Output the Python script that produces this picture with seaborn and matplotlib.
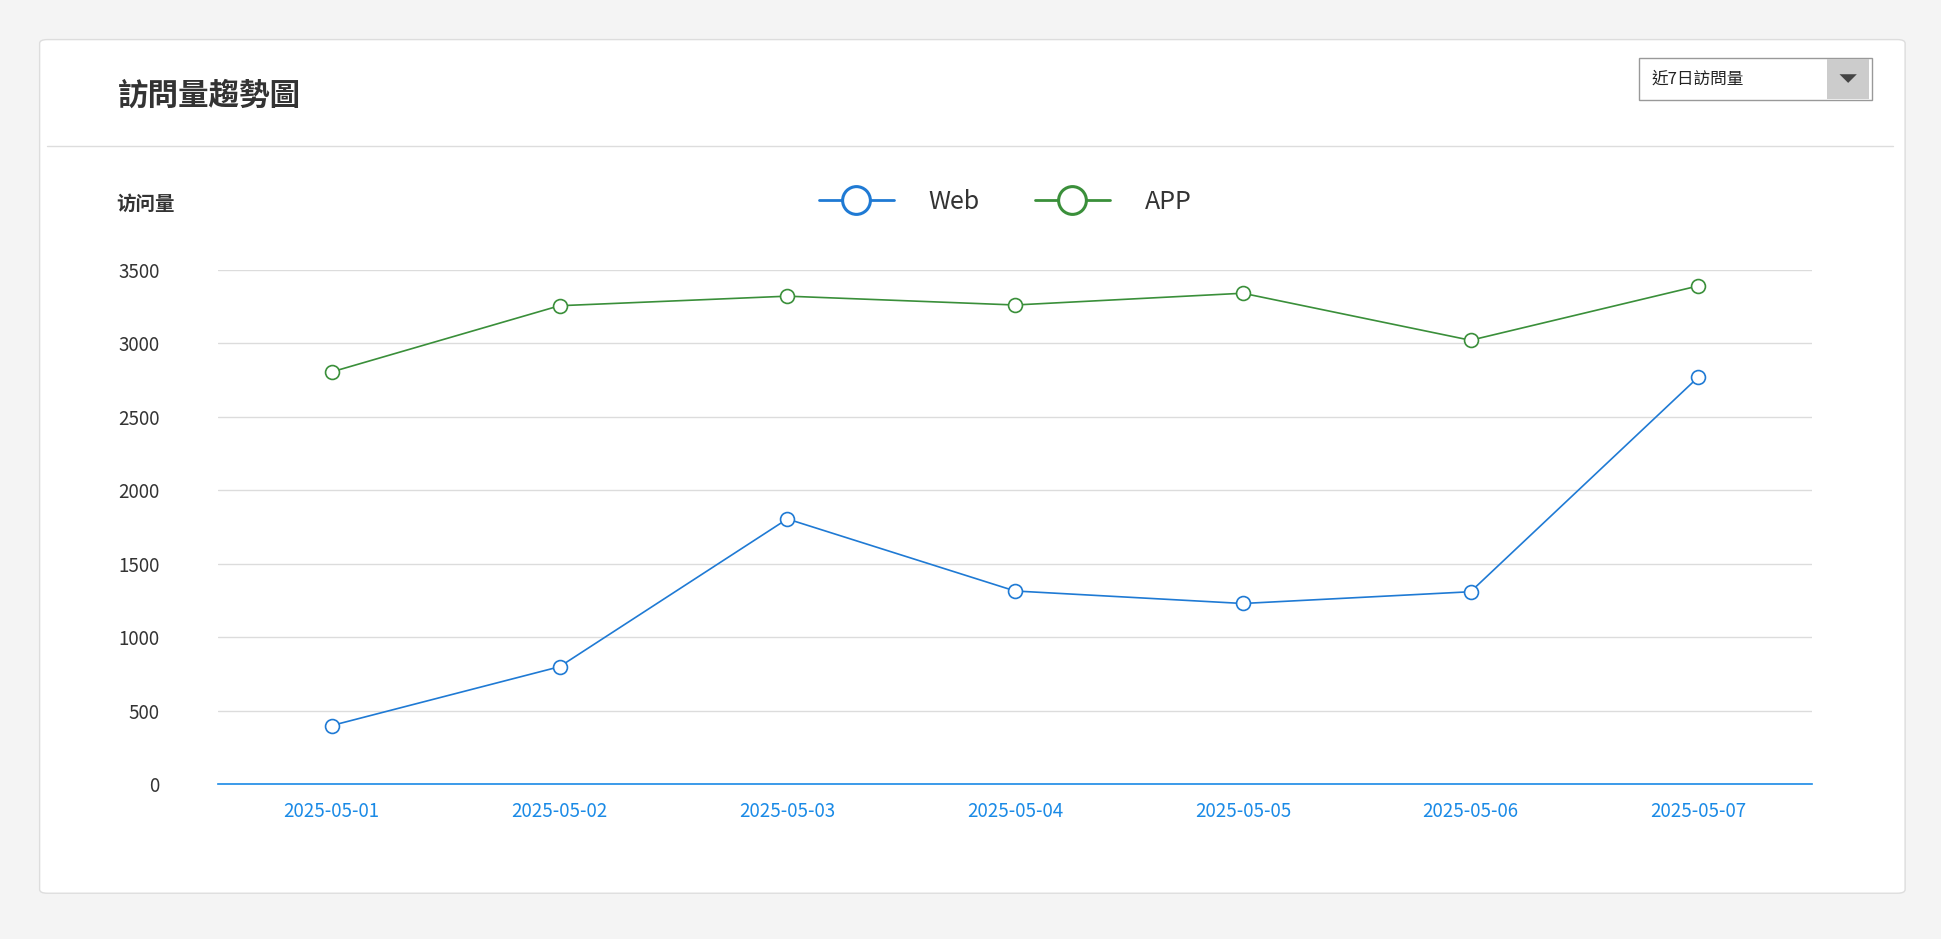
import matplotlib
matplotlib.use("Agg")
import matplotlib.pyplot as plt
import seaborn as sns
import pandas as pd
from matplotlib.patches import FancyBboxPatch, Rectangle, Polygon
from matplotlib.lines import Line2D

dates = ["2025-05-01", "2025-05-02", "2025-05-03", "2025-05-04",
         "2025-05-05", "2025-05-06", "2025-05-07"]
web = [400, 800, 1805, 1315, 1230, 1310, 2770]
app = [2805, 3255, 3320, 3260, 3340, 3020, 3390]
yticks = [0, 500, 1000, 1500, 2000, 2500, 3000, 3500]

WEB_C = "#1f7ad4"
APP_C = "#3a8f3a"

sns.set_style("white")
plt.rcParams['font.family'] = ['Noto Sans CJK TC', 'DejaVu Sans']

W, H = 1568, 759  # reference layout units
fig = plt.figure(figsize=(19.41, 9.39), dpi=100, facecolor="#f4f4f4")

def fx(x): return x / W
def fy(y): return 1 - y / H

# card (drawn behind the axes)
card = FancyBboxPatch((fx(32), fy(722)), fx(1507), (722 - 32) / H,
                      boxstyle="round,pad=0,rounding_size=0.004",
                      transform=fig.transFigure, facecolor="white",
                      edgecolor="#dddddd", linewidth=1, zorder=-5)
fig.patches.append(card)
fig.add_artist(Line2D([fx(38), fx(1529)], [fy(118), fy(118)],
                      color="#dddddd", linewidth=1, transform=fig.transFigure))
fig.text(fx(95), fy(77), "訪問量趨勢圖", fontsize=22, fontweight="bold",
         color="#333333", va="center", ha="left")

# dropdown
fig.patches.append(Rectangle((fx(1324), fy(81)), fx(188), 34 / H,
                             transform=fig.transFigure, facecolor="white",
                             edgecolor="#999999", linewidth=1, zorder=1))
fig.patches.append(Rectangle((fx(1476), fy(80)), fx(34), 32 / H,
                             transform=fig.transFigure, facecolor="#cccccc",
                             edgecolor="none", zorder=2))
fig.patches.append(Polygon([[fx(1486), fy(60)], [fx(1500), fy(60)], [fx(1493), fy(67)]],
                           closed=True, transform=fig.transFigure,
                           facecolor="#444444", edgecolor="none", zorder=3))
fig.text(fx(1334), fy(64), "近7日訪問量", fontsize=12, color="#222222",
         va="center", ha="left")

ax = fig.add_axes([fx(176), fy(634), fx(1464 - 176), (634 - 218) / H])
ax.set_zorder(5)
ax.set_facecolor("white")

df = pd.DataFrame({"x": list(range(7)) * 2, "value": web + app,
                   "series": ["Web"] * 7 + ["APP"] * 7})
sns.lineplot(data=df, x="x", y="value", hue="series",
             palette={"Web": WEB_C, "APP": APP_C}, marker="o", markersize=10,
             markerfacecolor="white", markeredgewidth=1.2, linewidth=1.2,
             ax=ax, legend=False)
for ln, c in zip(ax.lines, [WEB_C, APP_C]):
    ln.set_markeredgecolor(c)

ax.set_xlim(-0.5, 6.5)
ax.set_ylim(0, 3500)
ax.set_yticks(yticks)
ax.set_yticklabels([str(v) for v in yticks], fontsize=13.5, color="#333333")
ax.set_xticks(range(7))
ax.set_xticklabels(dates, fontsize=13.5, color="#1a8ae6")
ax.set_xticks([i - 0.5 for i in range(8)], minor=True)
ax.tick_params(axis="x", which="major", length=0, pad=12)
ax.tick_params(axis="x", which="minor", length=18, color="#1a8ae6", width=1.2)
ax.tick_params(axis="y", length=0, pad=42)
ax.grid(axis="y", color="#dcdcdc", linewidth=1)
ax.set_axisbelow(True)
for s in ["top", "right", "left"]:
    ax.spines[s].set_visible(False)
ax.spines["bottom"].set_color("#1a8ae6")
ax.spines["bottom"].set_linewidth(1.2)
ax.set_xlabel("")
ax.set_ylabel("")

fig.text(fx(94), fy(165), "访问量", fontsize=14, fontweight="bold",
         color="#333333", va="center", ha="left")

handles = [Line2D([], [], color=WEB_C, marker="o", markersize=20,
                  markerfacecolor="white", markeredgewidth=2.2, linewidth=2),
           Line2D([], [], color=APP_C, marker="o", markersize=20,
                  markerfacecolor="white", markeredgewidth=2.2, linewidth=2)]
fig.legend(handles, ["Web", "APP"], loc="center", bbox_to_anchor=(fx(812), fy(163)),
           ncol=2, frameon=False, fontsize=18, handlelength=3.0,
           columnspacing=2.2, handletextpad=1.4, labelcolor="#333333")

fig.savefig("out.png", dpi=100, facecolor=fig.get_facecolor())
